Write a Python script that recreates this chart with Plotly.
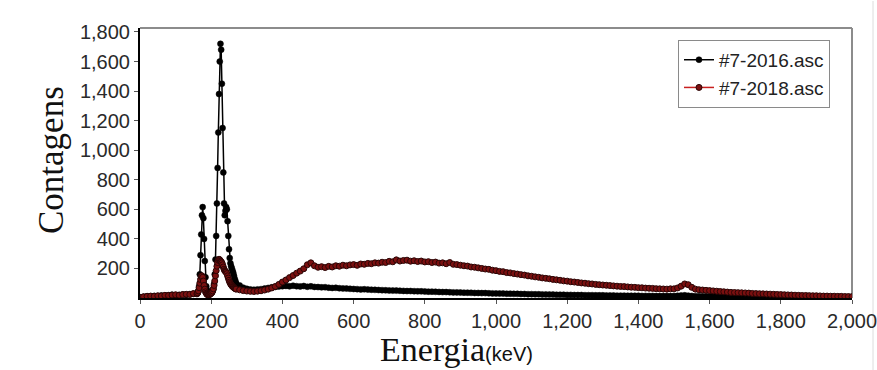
import plotly.graph_objects as go

# ---------------- data ----------------
energy_kev = list(range(0, 160, 10)) + list(range(160, 272, 2)) + list(range(280, 2001, 10))

counts_2016 = (
    # 0 .. 150 keV (step 10)
    [4, 9, 12, 10, 14, 13, 17, 15, 19, 22, 18, 21, 24, 20, 26, 28]
    # 160 .. 270 keV (step 2)
    + [30, 34, 45, 80, 160, 290, 430, 560, 615, 540,
       400, 250, 140, 80, 55, 42, 36, 33, 31, 32,
       34, 38, 45, 60, 95, 160, 260, 420, 640, 880,
       1120, 1380, 1600, 1720, 1680, 1450, 1150, 850, 640, 560,
       590, 615, 600, 520, 420, 330, 270, 235, 215, 200,
       185, 170, 150, 130, 115, 100]
    # 280 .. 2000 keV (step 10)
    + [85, 70,
       62, 58, 56, 58, 60, 64, 68, 72, 75, 78,
       80, 82, 79, 83, 80, 78, 81, 76, 79, 75,
       74, 72, 73, 70, 68, 69, 66, 65, 64, 62,
       61, 60, 58, 59, 57, 56, 55, 54, 53, 52,
       51, 50, 50, 49, 48, 47, 47, 46, 45, 45,
       44, 43, 43, 42, 41, 40, 40, 39, 38, 38,
       37, 36, 36, 35, 34, 34, 33, 33, 32, 31,
       31, 30, 30, 29, 29, 28, 28, 27, 27, 26,
       26, 25, 25, 24, 24, 23, 23, 22, 22, 22,
       21, 21, 20, 20, 20, 19, 19, 19, 18, 18,
       18, 17, 17, 17, 16, 16, 16, 15, 15, 15,
       15, 14, 14, 14, 14, 13, 13, 13, 13, 13,
       14, 15, 17, 18, 16, 14, 12, 12, 11, 11,
       11, 10, 10, 10, 10, 9, 9, 9, 9, 8,
       8, 8, 8, 7, 7, 7, 7, 7, 6, 6,
       6, 6, 6, 5, 5, 5, 5, 5, 5, 5,
       4, 4, 4, 4, 4, 4, 3, 3, 3, 3,
       3]
)

counts_2018 = (
    # 0 .. 150 keV (step 10)
    [5, 8, 11, 13, 12, 15, 14, 18, 17, 20, 22, 19, 23, 25, 24, 30]
    # 160 .. 270 keV (step 2)
    + [28, 35, 48, 70, 100, 125, 145, 150, 140, 115,
       85, 60, 42, 32, 26, 22, 20, 22, 24, 28,
       32, 38, 48, 62, 85, 115, 150, 185, 215, 240,
       255, 262, 258, 250, 245, 238, 225, 210, 195, 185,
       180, 175, 165, 150, 135, 120, 108, 98, 90, 84,
       78, 74, 70, 66, 63, 60]
    # 280 .. 2000 keV (step 10)
    + [55, 50,
       47, 45, 44, 46, 49, 54, 60, 68, 78, 92,
       108, 122, 138, 152, 168, 182, 198, 225, 238, 218,
       208, 212, 206, 214, 210, 218, 215, 222, 218, 224,
       226, 221, 230, 228, 234, 232, 238, 236, 242, 240,
       248, 245, 258, 250, 254, 256, 249, 252, 247, 250,
       244, 246, 240, 243, 236, 238, 232, 240, 228, 226,
       222, 218, 216, 210, 208, 204, 200, 196, 194, 188,
       185, 180, 178, 172, 170, 165, 162, 158, 155, 150,
       147, 143, 140, 136, 133, 130, 126, 123, 120, 116,
       114, 110, 108, 105, 102, 100, 97, 95, 92, 90,
       88, 86, 84, 82, 80, 78, 77, 75, 73, 72,
       70, 69, 67, 66, 65, 63, 62, 61, 60, 62,
       62, 68, 80, 95, 90, 72, 60, 56, 54, 52,
       50, 48, 46, 44, 42, 40, 38, 37, 36, 35,
       34, 33, 31, 30, 29, 28, 27, 26, 25, 24,
       23, 22, 21, 20, 19, 18, 17, 17, 16, 15,
       15, 14, 13, 13, 12, 12, 11, 11, 10, 10,
       9]
)

series_names = ["#7-2016.asc", "#7-2018.asc"]
x_ticks = list(range(0, 2001, 200))
y_ticks = list(range(200, 1801, 200))

# ---------------- figure ----------------
fig = go.Figure()
fig.add_trace(go.Scatter(
    x=energy_kev, y=counts_2016, name=series_names[0], mode="lines+markers",
    line=dict(color="#000000", width=1.5),
    marker=dict(color="#000000", size=6, line=dict(color="#000000", width=0.5)),
))
fig.add_trace(go.Scatter(
    x=energy_kev, y=counts_2018, name=series_names[1], mode="lines+markers",
    line=dict(color="#c82020", width=1.5),
    marker=dict(color="#7a1010", size=6, line=dict(color="#2a0505", width=1)),
))

tick_font = dict(family="Liberation Sans, Arial", size=20, color="#2a2a2a")

fig.update_layout(
    width=877, height=370,
    margin=dict(l=140, r=25, t=28, b=72, autoexpand=False),
    paper_bgcolor="white", plot_bgcolor="white",
    showlegend=True,
    legend=dict(
        x=0.7556, y=0.956, xanchor="left", yanchor="top",
        bordercolor="#8a8a8a", borderwidth=1, bgcolor="white",
        font=dict(family="Liberation Sans, Arial", size=19, color="#222"),
        itemwidth=30, tracegroupgap=0,
    ),
    xaxis=dict(
        range=[0, 2000], tickvals=x_ticks, tickformat=",d",
        ticks="outside", ticklen=4, tickcolor="#555", tickwidth=1,
        showline=True, linecolor="#000", linewidth=2, automargin=False,
        ticklabeloverflow="allow",
        showgrid=False, zeroline=False, tickfont=tick_font,
    ),
    yaxis=dict(
        range=[0, 1827], tickvals=y_ticks, tickformat=",d",
        ticks="outside", ticklen=4, tickcolor="#555", tickwidth=1,
        showline=True, linecolor="#000", linewidth=2, automargin=False,
        ticklabeloverflow="allow",
        showgrid=False, zeroline=False, tickfont=tick_font,
    ),
    shapes=[
        dict(type="line", xref="paper", yref="paper", x0=0, x1=1, y0=1, y1=1,
             line=dict(color="#8c8c8c", width=2), layer="below"),
        dict(type="line", xref="paper", yref="paper", x0=1, x1=1, y0=0, y1=1,
             line=dict(color="#8c8c8c", width=2), layer="below"),
        dict(type="line", xref="paper", yref="paper", x0=1.0295, x1=1.0295, y0=-0.27, y1=1.1,
             line=dict(color="#dcdcdc", width=1), layer="below"),
    ],
    annotations=[
        dict(text="Contagens", xref="paper", yref="paper", x=-0.124, y=0.51,
             xanchor="center", yanchor="middle",
             textangle=-90, showarrow=False,
             font=dict(family="Liberation Serif, Times New Roman", size=35, color="#111")),
        dict(text="Energia<span style='font-family:Liberation Sans, Arial;font-size:20px'>(keV)</span>",
             xref="paper", yref="paper", x=0.445, y=-0.19,
             xanchor="center", yanchor="middle", showarrow=False,
             font=dict(family="Liberation Serif, Times New Roman", size=34, color="#111")),
    ],
)

fig.write_html("out.html")
